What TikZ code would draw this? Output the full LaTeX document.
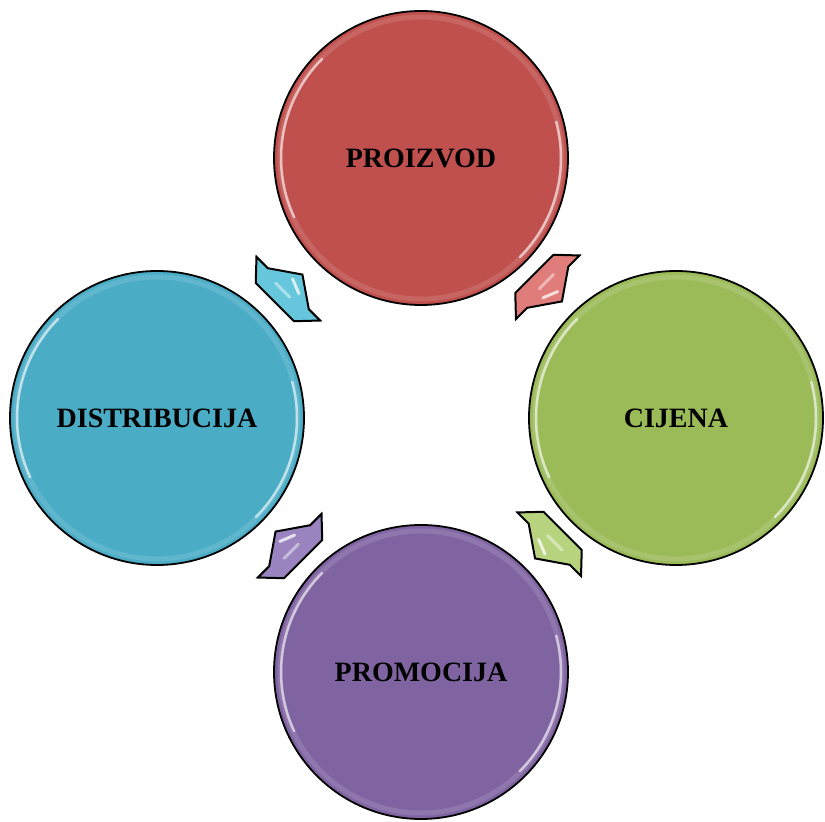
\documentclass[tikz,border=0pt]{standalone}
\usepackage{fontspec}
\setmainfont{Liberation Serif}
\usetikzlibrary{calc}
\definecolor{cred}{HTML}{C0504D}
\definecolor{cgreen}{HTML}{9BBB59}
\definecolor{cblue}{HTML}{4BACC6}
\definecolor{cpurple}{HTML}{8064A2}
\definecolor{ared}{HTML}{E07C7A}
\definecolor{agreen}{HTML}{B7D37D}
\definecolor{ablue}{HTML}{66C6DB}
\definecolor{apurple}{HTML}{9A84BF}
\newcommand\ballshine[1]{%
  \draw[ring] (#1) circle[radius=141pt];
  \draw[shine] ($(#1)+(135:140pt)$) arc (135:205:140pt);
  \draw[shine] ($(#1)+(-45:140pt)$) arc (-45:15:140pt);
}
\newcommand\cyclearrow[3]{%
  \begin{scope}[shift={(#1)}, rotate=#2]
    \draw[arrowline, fill=#3] (19,0) -- (-1,29) -- (-1,45) -- (-20,27) -- (-20,-27) -- (-1,-45) -- (-1,-29) -- cycle;
    \draw[white, opacity=0.75, line width=3pt, line cap=round] (9,4) -- (3,-11);
    \draw[white, opacity=0.45, line width=3pt, line cap=round] (-6,13) -- (-6,-7);
  \end{scope}}
\begin{document}
\begin{tikzpicture}[x=1pt,y=1pt,
  ball/.style={circle, draw=black, line width=1.8pt, minimum size=294pt, inner sep=0pt,
    font=\bfseries\fontsize{28}{32}\selectfont, text=black},
  ring/.style={white, line width=5pt, opacity=0.12},
  shine/.style={white, line width=2.5pt, opacity=0.6, line cap=round},
  arrowline/.style={draw=black, line width=2pt, line join=miter},
]
\useasboundingbox (0,0) rectangle (825,822);
\node[ball, fill=cred] (pro) at (421,664) {PROIZVOD};
\node[ball, fill=cgreen] (cij) at (676,404) {CIJENA};
\node[ball, fill=cpurple] (prm) at (421,150) {PROMOCIJA};
\node[ball, fill=cblue] (dis) at (157,404) {DISTRIBUCIJA};
\ballshine{pro}
\ballshine{cij}
\ballshine{prm}
\ballshine{dis}
\coordinate (m1) at ($(dis)!0.5!(pro)$);
\coordinate (m2) at ($(pro)!0.5!(cij)$);
\coordinate (m3) at ($(cij)!0.5!(prm)$);
\coordinate (m4) at ($(prm)!0.5!(dis)$);
\cyclearrow{m1}{45}{ablue}
\cyclearrow{m2}{-45}{ared}
\cyclearrow{m3}{-135}{agreen}
\cyclearrow{m4}{135}{apurple}
\end{tikzpicture}
\end{document}
